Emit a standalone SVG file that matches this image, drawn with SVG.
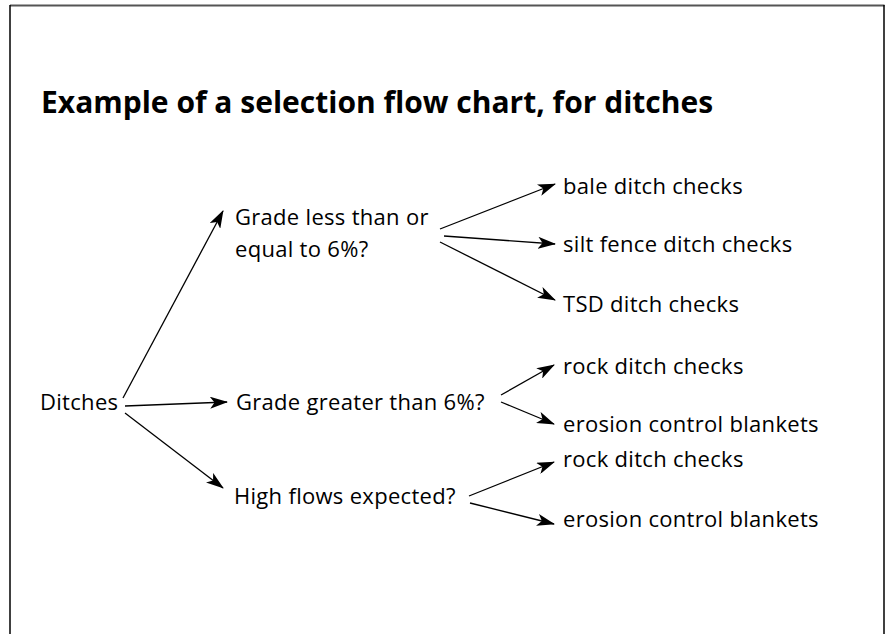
<svg xmlns="http://www.w3.org/2000/svg" width="887" height="634" viewBox="0 0 887 634">
  <style>
    .t { font-family: "Open Sans", "Noto Sans", "DejaVu Sans", sans-serif; font-size: 22px; letter-spacing: 0.3px; fill: #000; }
    .title { font-family: "Open Sans", "Noto Sans", "DejaVu Sans", sans-serif; font-size: 30px; font-weight: bold; fill: #000; }
    .c { stroke: #000; stroke-width: 1.3; fill: none; marker-end: url(#ah); }
  </style>
  <defs>
    <marker id="ah" viewBox="0 0 18 12" refX="17" refY="6" markerWidth="18" markerHeight="12" markerUnits="userSpaceOnUse" orient="auto">
      <path d="M0,0 L18,6 L0,12 L4.5,6 z" fill="#000"/>
    </marker>
  </defs>
  <rect width="887" height="634" fill="#fff"/>
  <g id="frame">
    <line x1="10" y1="5.5" x2="884.5" y2="5.5" stroke="#555" stroke-width="2"/>
    <line x1="10" y1="5" x2="10" y2="634" stroke="#000" stroke-width="1.5"/>
    <line x1="884" y1="5" x2="884" y2="634" stroke="#000" stroke-width="1.5"/>
  </g>
  <g id="title"><text class="title" x="41" y="113">Example of a selection flow chart, for ditches</text></g>
  <g id="n-ditches"><text class="t" x="40" y="410">Ditches</text></g>
  <g id="n-grade-le"><text class="t" x="235" y="225">Grade less than or</text><text class="t" x="235" y="257">equal to 6%?</text></g>
  <g id="n-grade-gt"><text class="t" x="236" y="410">Grade greater than 6%?</text></g>
  <g id="n-high"><text class="t" x="234" y="504">High flows expected?</text></g>
  <g id="n-bale"><text class="t" x="563" y="194">bale ditch checks</text></g>
  <g id="n-silt"><text class="t" x="563" y="252">silt fence ditch checks</text></g>
  <g id="n-tsd"><text class="t" x="563" y="312">TSD ditch checks</text></g>
  <g id="n-rock1"><text class="t" x="563" y="374">rock ditch checks</text></g>
  <g id="n-erosion1"><text class="t" x="563" y="432">erosion control blankets</text></g>
  <g id="n-rock2"><text class="t" x="563" y="467">rock ditch checks</text></g>
  <g id="n-erosion2"><text class="t" x="563" y="527">erosion control blankets</text></g>
  <g id="connectors">
    <line class="c" x1="123" y1="398" x2="223" y2="211"/>
    <line class="c" x1="125" y1="406" x2="227" y2="402"/>
    <line class="c" x1="125" y1="413" x2="223" y2="488"/>
    <line class="c" x1="440" y1="229" x2="555" y2="184"/>
    <line class="c" x1="444" y1="236" x2="555" y2="244"/>
    <line class="c" x1="440" y1="242" x2="555" y2="300"/>
    <line class="c" x1="501" y1="395" x2="554" y2="365"/>
    <line class="c" x1="501" y1="402" x2="554" y2="424"/>
    <line class="c" x1="469" y1="496" x2="554" y2="462"/>
    <line class="c" x1="470" y1="503" x2="554" y2="524"/>
  </g>
</svg>
